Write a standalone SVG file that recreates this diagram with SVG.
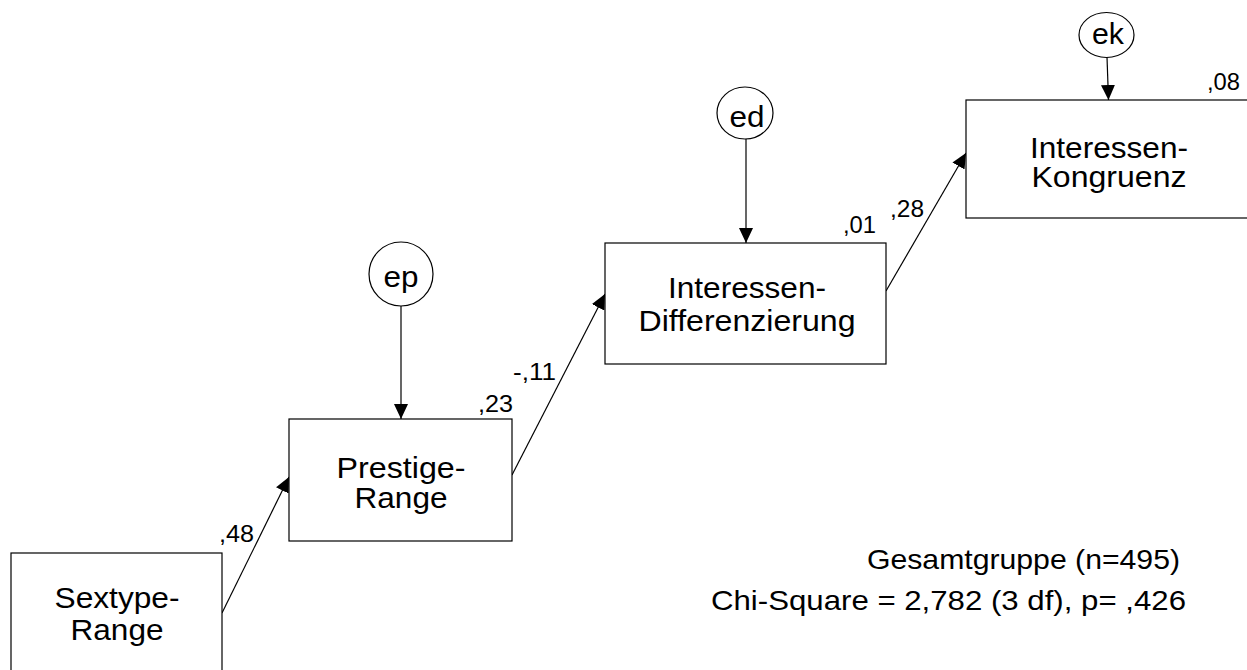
<svg xmlns="http://www.w3.org/2000/svg" width="1247" height="670" viewBox="0 0 1247 670">
<style>
  .box { fill: #fff; stroke: #000; stroke-width: 1.2; }
  .err { fill: #fff; stroke: #000; stroke-width: 1.2; }
  .lbl { font-family: "Liberation Sans", Arial, sans-serif; font-size: 29px; fill: #000; text-anchor: middle; }
  .num { font-family: "Liberation Sans", Arial, sans-serif; font-size: 23px; fill: #000; }
  .info { font-family: "Liberation Sans", Arial, sans-serif; font-size: 28.5px; fill: #000; }
  .con { stroke: #000; stroke-width: 1.2; fill: none; marker-end: url(#arr); }
</style>
<defs>
  <marker id="arr" markerUnits="userSpaceOnUse" markerWidth="16" markerHeight="14" refX="15" refY="7" orient="auto" viewBox="0 0 16 14">
    <path d="M0,0 L15,7 L0,14 z" fill="#000"/>
  </marker>
</defs>
<rect width="1247" height="670" fill="#fff"/>
<g id="connectors">
  <line class="con" x1="222" y1="613" x2="289" y2="477"/>
  <line class="con" x1="512" y1="475" x2="605" y2="294"/>
  <line class="con" x1="886" y1="291" x2="966" y2="153"/>
  <line class="con" x1="401" y1="306" x2="401" y2="419"/>
  <line class="con" x1="746" y1="139" x2="746" y2="243"/>
  <line class="con" x1="1107" y1="57" x2="1108.5" y2="100"/>
</g>
<g id="sextype">
  <rect class="box" x="11" y="553" width="211" height="140"/>
  <text class="lbl" x="117" y="608" textLength="125" lengthAdjust="spacingAndGlyphs">Sextype-</text>
  <text class="lbl" x="117" y="640" textLength="93" lengthAdjust="spacingAndGlyphs">Range</text>
</g>
<g id="prestige">
  <rect class="box" x="289" y="419" width="223" height="122"/>
  <text class="lbl" x="401" y="478" textLength="129" lengthAdjust="spacingAndGlyphs">Prestige-</text>
  <text class="lbl" x="401" y="508" textLength="93" lengthAdjust="spacingAndGlyphs">Range</text>
  <text class="num" x="478" y="412" textLength="35" lengthAdjust="spacingAndGlyphs">,23</text>
</g>
<g id="differenzierung">
  <rect class="box" x="605" y="243" width="281" height="121"/>
  <text class="lbl" x="747" y="298" textLength="158" lengthAdjust="spacingAndGlyphs">Interessen-</text>
  <text class="lbl" x="747" y="331" textLength="217" lengthAdjust="spacingAndGlyphs">Differenzierung</text>
  <text class="num" x="843" y="233" textLength="33" lengthAdjust="spacingAndGlyphs">,01</text>
</g>
<g id="kongruenz">
  <rect class="box" x="966" y="100" width="300" height="118"/>
  <text class="lbl" x="1109" y="158" textLength="158" lengthAdjust="spacingAndGlyphs">Interessen-</text>
  <text class="lbl" x="1109" y="187" textLength="155" lengthAdjust="spacingAndGlyphs">Kongruenz</text>
  <text class="num" x="1207" y="90" textLength="33" lengthAdjust="spacingAndGlyphs">,08</text>
</g>
<g id="ep">
  <ellipse class="err" cx="401" cy="274" rx="32" ry="32"/>
  <text class="lbl" x="401" y="287" textLength="35" lengthAdjust="spacingAndGlyphs">ep</text>
</g>
<g id="ed">
  <ellipse class="err" cx="745" cy="113" rx="28" ry="26"/>
  <text class="lbl" x="747" y="127" textLength="35" lengthAdjust="spacingAndGlyphs">ed</text>
</g>
<g id="ek">
  <ellipse class="err" cx="1106.5" cy="35" rx="27.5" ry="22.5"/>
  <text class="lbl" x="1108" y="44" textLength="32" lengthAdjust="spacingAndGlyphs">ek</text>
</g>
<g id="path-labels">
  <text class="num" x="219" y="542" textLength="35" lengthAdjust="spacingAndGlyphs">,48</text>
  <text class="num" x="513" y="380" textLength="43" lengthAdjust="spacingAndGlyphs">-,11</text>
  <text class="num" x="890" y="217" textLength="34" lengthAdjust="spacingAndGlyphs">,28</text>
</g>
<g id="fit-info">
  <text class="info" x="867" y="569" textLength="313" lengthAdjust="spacingAndGlyphs">Gesamtgruppe (n=495)</text>
  <text class="info" x="711" y="610" textLength="475" lengthAdjust="spacingAndGlyphs">Chi-Square = 2,782 (3 df), p= ,426</text>
</g>
</svg>
